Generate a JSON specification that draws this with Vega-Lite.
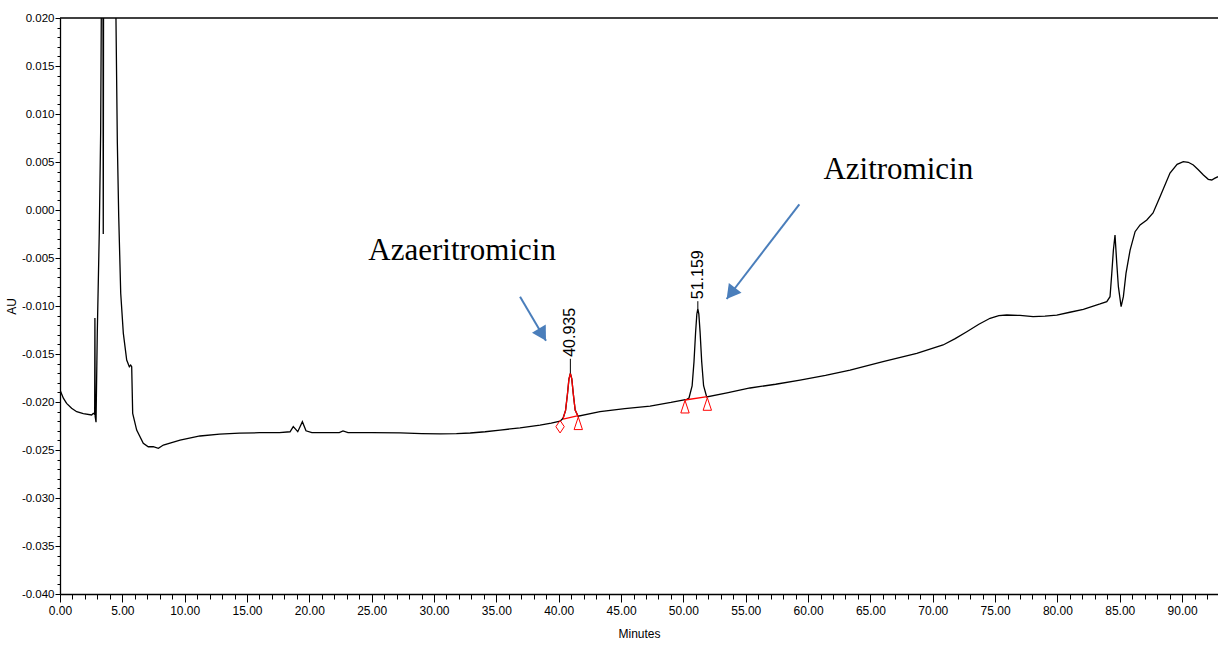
{
  "$schema": "https://vega.github.io/schema/vega-lite/v6.json",
  "width": 1158,
  "height": 576,
  "autosize": {"type": "none"},
  "padding": {"left": 60, "top": 18, "right": 0, "bottom": 54},
  "background": "white",
  "config": {
    "view": {"stroke": null},
    "locale": {"number": {"decimal": ".", "thousands": ",", "grouping": [3], "currency": ["$", ""], "minus": "-"}},
    "axis": {
      "grid": false,
      "domainColor": "black",
      "tickColor": "black",
      "labelColor": "black",
      "titleColor": "black",
      "labelFont": "'Liberation Sans', Arial, sans-serif",
      "titleFont": "'Liberation Sans', Arial, sans-serif",
      "labelFontSize": 11.5,
      "titleFontSize": 12,
      "titleFontWeight": "normal",
      "domainWidth": 1.3,
      "tickWidth": 1
    }
  },
  "datasets": {
    "trace": [
      {"t": 0, "au": -0.01875}, {"t": 0.27, "au": -0.0196}, {"t": 0.53, "au": -0.02014}, {"t": 0.93, "au": -0.02065},
      {"t": 1.34, "au": -0.02101}, {"t": 1.87, "au": -0.0212}, {"t": 2.54, "au": -0.02135}, {"t": 2.67, "au": -0.02118},
      {"t": 2.78, "au": -0.0213}, {"t": 2.8, "au": -0.01125}, {"t": 2.82, "au": -0.0215}, {"t": 2.89, "au": -0.0221},
      {"t": 2.99, "au": -0.01281}, {"t": 3.15, "au": -0.0024}, {"t": 3.26, "au": 0.00802}, {"t": 3.31, "au": 0.0198},
      {"t": 3.36, "au": 0.04}, {"t": 3.43, "au": 0.04}, {"t": 3.47, "au": -0.0025}, {"t": 3.51, "au": 0.04},
      {"t": 4.45, "au": 0.04}, {"t": 4.49, "au": 0.0198}, {"t": 4.6, "au": 0.00695}, {"t": 4.71, "au": -0.0007},
      {"t": 4.87, "au": -0.00868}, {"t": 5.08, "au": -0.01285}, {"t": 5.35, "au": -0.01563}, {"t": 5.56, "au": -0.01632},
      {"t": 5.67, "au": -0.01615}, {"t": 5.75, "au": -0.01632}, {"t": 5.83, "au": -0.02118}, {"t": 6.15, "au": -0.02292},
      {"t": 6.68, "au": -0.0243}, {"t": 7.08, "au": -0.02466}, {"t": 7.48, "au": -0.02466}, {"t": 7.89, "au": -0.02482},
      {"t": 8.29, "au": -0.02448}, {"t": 9.63, "au": -0.02396}, {"t": 11.23, "au": -0.02354}, {"t": 12.8, "au": -0.02335},
      {"t": 14.4, "au": -0.02325}, {"t": 16.0, "au": -0.0232}, {"t": 17.6, "au": -0.02318}, {"t": 18.45, "au": -0.0231},
      {"t": 18.71, "au": -0.02257}, {"t": 19.07, "au": -0.02309}, {"t": 19.44, "au": -0.02205}, {"t": 19.73, "au": -0.023},
      {"t": 20.2, "au": -0.02318}, {"t": 21.5, "au": -0.0232}, {"t": 22.4, "au": -0.02318}, {"t": 22.7, "au": -0.02302},
      {"t": 23.1, "au": -0.02318}, {"t": 25.0, "au": -0.0232}, {"t": 27.3, "au": -0.02322}, {"t": 29.0, "au": -0.0233},
      {"t": 30.5, "au": -0.02333}, {"t": 31.8, "au": -0.0233}, {"t": 32.9, "au": -0.02323}, {"t": 34.1, "au": -0.0231},
      {"t": 35.3, "au": -0.02292}, {"t": 36.9, "au": -0.0227}, {"t": 38.5, "au": -0.0224}, {"t": 39.4, "au": -0.0222},
      {"t": 40.11, "au": -0.022},
      {"t": 40.35, "au": -0.0217, "red": 1}, {"t": 40.55, "au": -0.02088, "red": 1}, {"t": 40.7, "au": -0.01919, "red": 1},
      {"t": 40.82, "au": -0.01762, "red": 1}, {"t": 40.935, "au": -0.01701, "red": 1}, {"t": 41.05, "au": -0.0176, "red": 1},
      {"t": 41.17, "au": -0.01916, "red": 1}, {"t": 41.32, "au": -0.02083, "red": 1}, {"t": 41.55, "au": -0.02148, "red": 1},
      {"t": 43.31, "au": -0.02101}, {"t": 45.3, "au": -0.0207}, {"t": 47.33, "au": -0.02042}, {"t": 49.0, "au": -0.02005},
      {"t": 50.27, "au": -0.01972}, {"t": 50.45, "au": -0.01958}, {"t": 50.7, "au": -0.01833}, {"t": 50.85, "au": -0.01582},
      {"t": 50.98, "au": -0.01273}, {"t": 51.08, "au": -0.01083}, {"t": 51.159, "au": -0.0103}, {"t": 51.24, "au": -0.01085},
      {"t": 51.34, "au": -0.01272}, {"t": 51.47, "au": -0.01582}, {"t": 51.62, "au": -0.0183}, {"t": 51.87, "au": -0.01947},
      {"t": 53.5, "au": -0.01905}, {"t": 55.35, "au": -0.01854}, {"t": 57.4, "au": -0.01815}, {"t": 59.36, "au": -0.01771},
      {"t": 61.4, "au": -0.01722}, {"t": 63.37, "au": -0.01667}, {"t": 66.01, "au": -0.0158}, {"t": 68.72, "au": -0.01493},
      {"t": 70.83, "au": -0.01406}, {"t": 71.8, "au": -0.0134}, {"t": 72.73, "au": -0.01268}, {"t": 73.7, "au": -0.0119},
      {"t": 74.6, "au": -0.01128}, {"t": 75.3, "au": -0.011}, {"t": 75.94, "au": -0.01094}, {"t": 77.0, "au": -0.01098},
      {"t": 78.05, "au": -0.01111}, {"t": 79.0, "au": -0.01105}, {"t": 79.95, "au": -0.01094}, {"t": 81.0, "au": -0.01065},
      {"t": 82.08, "au": -0.01034}, {"t": 83.42, "au": -0.00979}, {"t": 83.96, "au": -0.00955}, {"t": 84.22, "au": -0.00903},
      {"t": 84.36, "au": -0.0066}, {"t": 84.49, "au": -0.00417}, {"t": 84.62, "au": -0.0026}, {"t": 84.76, "au": -0.00555},
      {"t": 84.89, "au": -0.00799}, {"t": 85.11, "au": -0.01007}, {"t": 85.29, "au": -0.00903}, {"t": 85.5, "au": -0.0066},
      {"t": 85.83, "au": -0.00417}, {"t": 86.23, "au": -0.00226}, {"t": 86.63, "au": -0.00156}, {"t": 87.17, "au": -0.00104},
      {"t": 87.67, "au": -0.00031}, {"t": 88.23, "au": 0.00139}, {"t": 89.03, "au": 0.00385}, {"t": 89.6, "au": 0.00475},
      {"t": 90.1, "au": 0.00503}, {"t": 90.5, "au": 0.00497}, {"t": 90.9, "au": 0.00469}, {"t": 91.3, "au": 0.0042},
      {"t": 91.71, "au": 0.00365}, {"t": 92.1, "au": 0.0032}, {"t": 92.38, "au": 0.00313}, {"t": 92.6, "au": 0.0033},
      {"t": 92.88, "au": 0.00347}
    ],
    "baselines": [
      {"peak": 1, "t": 40.35, "au": -0.02178}, {"peak": 1, "t": 41.57, "au": -0.02143},
      {"peak": 2, "t": 50.13, "au": -0.01979}, {"peak": 2, "t": 51.92, "au": -0.01945}
    ],
    "markers": [
      {"code": "V", "t": 40.11, "au": -0.02257},
      {"code": "B", "t": 41.57, "au": -0.02222},
      {"code": "B", "t": 50.13, "au": -0.02049},
      {"code": "B", "t": 51.92, "au": -0.02021}
    ],
    "peaks": [
      {"label": "40.935", "t": 40.935, "au": -0.01701, "top": -0.0155},
      {"label": "51.159", "t": 51.159, "au": -0.0103, "top": -0.0095}
    ],
    "arrows": [
      {"id": "a1", "t": 36.9, "au": -0.00903, "t2": 38.98, "au2": -0.01361},
      {"id": "a2", "t": 59.3, "au": 0.00059, "t2": 53.47, "au2": -0.00927}
    ],
    "notes": [
      {"label": "Azaeritromicin", "t": 24.73, "au": -0.00521},
      {"label": "Azitromicin", "t": 61.23, "au": 0.0032}
    ],
    "frame": [
      {"t": 0, "t2": 92.88, "au": 0.02}
    ]
  },
  "layer": [
    {
      "data": {"name": "trace"},
      "mark": {"type": "line", "color": "black", "strokeWidth": 1.3, "clip": true},
      "encoding": {
        "x": {
          "field": "t", "type": "quantitative",
          "scale": {"domain": [0, 92.88], "nice": false, "zero": false},
          "axis": {
            "title": "Minutes",
            "values": [0,1,2,3,4,5,6,7,8,9,10,11,12,13,14,15,16,17,18,19,20,21,22,23,24,25,26,27,28,29,30,31,32,33,34,35,36,37,38,39,40,41,42,43,44,45,46,47,48,49,50,51,52,53,54,55,56,57,58,59,60,61,62,63,64,65,66,67,68,69,70,71,72,73,74,75,76,77,78,79,80,81,82,83,84,85,86,87,88,89,90,91,92],
            "tickCount": 200,
            "labelExpr": "datum.value % 5 === 0 ? format(datum.value, '.2f') : ''",
            "tickSize": {"condition": {"test": "datum.value % 5 === 0", "value": 8}, "value": 5},
            "labelFontSize": 12,
            "labelFlush": false,
            "labelOverlap": false,
            "labelPadding": 3,
            "titlePadding": 12
          }
        },
        "y": {
          "field": "au", "type": "quantitative",
          "scale": {"domain": [-0.04, 0.02], "nice": false, "zero": false},
          "axis": {
            "title": "AU",
            "values": [-0.04,-0.039,-0.038,-0.037,-0.036,-0.035,-0.034,-0.033,-0.032,-0.031,-0.03,-0.029,-0.028,-0.027,-0.026,-0.025,-0.024,-0.023,-0.022,-0.021,-0.02,-0.019,-0.018,-0.017,-0.016,-0.015,-0.014,-0.013,-0.012,-0.011,-0.01,-0.009,-0.008,-0.007,-0.006,-0.005,-0.004,-0.003,-0.002,-0.001,0,0.001,0.002,0.003,0.004,0.005,0.006,0.007,0.008,0.009,0.01,0.011,0.012,0.013,0.014,0.015,0.016,0.017,0.018,0.019,0.02],
            "tickCount": 200,
            "labelExpr": "abs(round(datum.value * 1000)) % 5 === 0 ? format(datum.value, '.3f') : ''",
            "tickSize": {"condition": {"test": "abs(round(datum.value * 1000)) % 5 === 0", "value": 5}, "value": 3},
            "labelFlush": false,
            "labelOverlap": false,
            "labelPadding": 1,
            "titlePadding": 3
          }
        }
      }
    },
    {
      "data": {"name": "trace"},
      "transform": [{"filter": "datum.red === 1"}],
      "mark": {"type": "line", "color": "#ff0000", "strokeWidth": 1.3},
      "encoding": {
        "x": {"field": "t", "type": "quantitative"},
        "y": {"field": "au", "type": "quantitative"}
      }
    },
    {
      "data": {"name": "baselines"},
      "mark": {"type": "line", "color": "#ff0000", "strokeWidth": 1.3},
      "encoding": {
        "x": {"field": "t", "type": "quantitative"},
        "y": {"field": "au", "type": "quantitative"},
        "detail": {"field": "peak", "type": "nominal"}
      }
    },
    {
      "data": {"name": "markers"},
      "mark": {"type": "point", "filled": false, "color": "#ff0000", "strokeWidth": 1, "size": 70, "opacity": 1},
      "encoding": {
        "x": {"field": "t", "type": "quantitative"},
        "y": {"field": "au", "type": "quantitative"},
        "shape": {
          "field": "code", "type": "nominal",
          "scale": {"domain": ["V", "B"], "range": ["M0,-1.5L1,0L0,1.5L-1,0Z", "M0,-1.5L1,1.5L-1,1.5Z"]},
          "legend": null
        }
      }
    },
    {
      "data": {"name": "peaks"},
      "mark": {"type": "rule", "color": "black", "strokeWidth": 1},
      "encoding": {
        "x": {"field": "t", "type": "quantitative"},
        "y": {"field": "au", "type": "quantitative"},
        "y2": {"field": "top"}
      }
    },
    {
      "data": {"name": "peaks"},
      "mark": {"type": "text", "angle": 270, "align": "left", "baseline": "middle", "font": "'Liberation Sans', Arial, sans-serif", "fontSize": 16, "color": "black", "dx": 2},
      "encoding": {
        "x": {"field": "t", "type": "quantitative"},
        "y": {"field": "top", "type": "quantitative"},
        "text": {"field": "label"}
      }
    },
    {
      "data": {"name": "arrows"},
      "mark": {"type": "rule", "color": "#4a7ebb", "strokeWidth": 2},
      "encoding": {
        "x": {"field": "t", "type": "quantitative"},
        "y": {"field": "au", "type": "quantitative"},
        "x2": {"field": "t2"},
        "y2": {"field": "au2"}
      }
    },
    {
      "data": {"name": "arrows"},
      "transform": [{"filter": "datum.id === 'a1'"}],
      "mark": {"type": "point", "shape": "M0,0L-1,1.75L1,1.75Z", "size": 256, "filled": true, "color": "#4a7ebb", "opacity": 1, "angle": 149.4},
      "encoding": {
        "x": {"field": "t2", "type": "quantitative"},
        "y": {"field": "au2", "type": "quantitative"}
      }
    },
    {
      "data": {"name": "arrows"},
      "transform": [{"filter": "datum.id === 'a2'"}],
      "mark": {"type": "point", "shape": "M0,0L-1,1.75L1,1.75Z", "size": 256, "filled": true, "color": "#4a7ebb", "opacity": 1, "angle": 217.5},
      "encoding": {
        "x": {"field": "t2", "type": "quantitative"},
        "y": {"field": "au2", "type": "quantitative"}
      }
    },
    {
      "data": {"name": "notes"},
      "mark": {"type": "text", "align": "left", "baseline": "alphabetic", "font": "'Liberation Serif', 'Times New Roman', serif", "fontSize": 31, "color": "black"},
      "encoding": {
        "x": {"field": "t", "type": "quantitative"},
        "y": {"field": "au", "type": "quantitative"},
        "text": {"field": "label"}
      }
    },
    {
      "data": {"name": "frame"},
      "mark": {"type": "rule", "color": "black", "strokeWidth": 1.5},
      "encoding": {
        "x": {"field": "t", "type": "quantitative"},
        "x2": {"field": "t2"},
        "y": {"field": "au", "type": "quantitative"}
      }
    }
  ]
}
